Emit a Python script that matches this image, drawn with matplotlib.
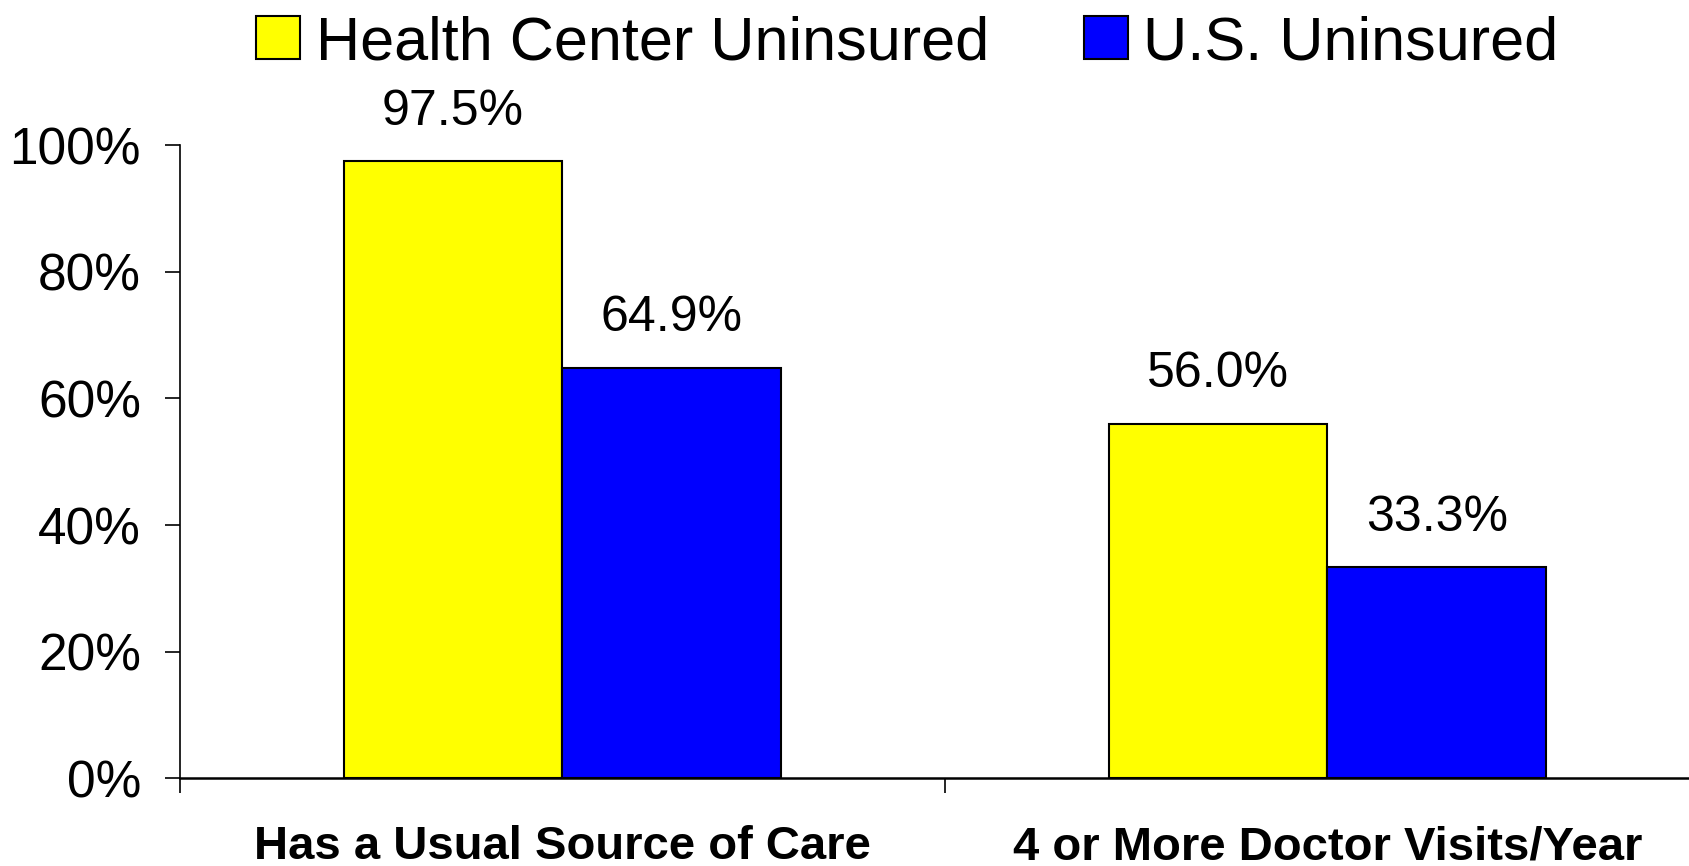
import matplotlib
matplotlib.use("Agg")
import matplotlib.pyplot as plt
import numpy as np

# values
categories = ["Has a Usual Source of Care", "4 or More Doctor Visits/Year"]
series_names = ["Health Center Uninsured", "U.S. Uninsured"]
health_center = [97.5, 56.0]
us_uninsured = [64.9, 33.3]
y_ticks = [0, 20, 40, 60, 80, 100]

plt.rcParams['font.family'] = ['Liberation Sans', 'DejaVu Sans']

fig = plt.figure(figsize=(16.9, 8.66), dpi=100)
# axes runs a bit past the right edge, as in the original slide
ax = fig.add_axes([0.1065, 0.1016, 0.9053, 0.7304])

x = np.arange(len(categories))
w = 0.286
b1 = ax.bar(x - w / 2, health_center, w, color="#ffff00", edgecolor="black",
            linewidth=1.5, label=series_names[0])
b2 = ax.bar(x + w / 2, us_uninsured, w, color="#0000ff", edgecolor="black",
            linewidth=1.5, label=series_names[1])

for bars, vals in ((b1, health_center), (b2, us_uninsured)):
    for r, v in zip(bars, vals):
        ax.annotate("%.1f%%" % v, (r.get_x() + r.get_width() / 2, v),
                    xytext=(0, 19), textcoords="offset points",
                    ha="center", va="bottom", fontsize=36)

ax.set_xlim(-0.5, len(categories) - 0.5)
ax.set_ylim(0, 100)
ax.set_yticks(y_ticks)
ax.set_yticklabels(["%d%%" % t for t in y_ticks], fontsize=37)
ax.tick_params(axis="y", length=11, width=1.2, pad=17, direction="out")

# category boundaries as ticks, labels at centres
ax.set_xticks(np.arange(len(categories) + 1) - 0.5)
ax.set_xticklabels([])
ax.set_xticks(x, minor=True)
ax.set_xticklabels(categories, minor=True, fontsize=34, fontweight="bold")
ax.tick_params(axis="x", which="major", length=11, width=1.2, direction="out")
ax.tick_params(axis="x", which="minor", length=0, pad=34)

ax.spines["top"].set_visible(False)
ax.spines["right"].set_visible(False)
ax.spines["bottom"].set_linewidth(1.8)
ax.spines["left"].set_linewidth(1.2)
ax.spines["bottom"].set_zorder(5)

fig.legend(handles=[b1, b2], loc="upper center", bbox_to_anchor=(0.537, 1.025),
           ncol=2, frameon=False, fontsize=44, handlelength=0.72, handleheight=0.72,
           handletextpad=0.25, columnspacing=1.56, borderaxespad=0.2)

fig.savefig("out.png", dpi=100)
